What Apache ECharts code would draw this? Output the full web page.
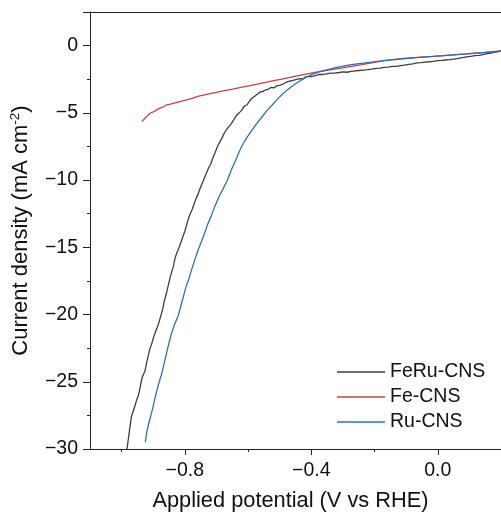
<!DOCTYPE html>
<html><head><meta charset="utf-8">
<script src="https://cdn.jsdelivr.net/npm/echarts@6/dist/echarts.min.js"></script>
<style>html,body{margin:0;padding:0;background:#fff}#c{width:501px;height:517px}</style>
</head><body><div id="c"></div>
<script>
var seriesNames = ['FeRu-CNS', 'Fe-CNS', 'Ru-CNS'];
var xMajorTicks = [-0.8, -0.4, 0.0];
var xMinorTicks = [-1.0, -0.6, -0.2];
var feruCNS = [
[-0.983,-30.0],[-0.980,-29.5],[-0.976,-28.8],[-0.972,-28.1],[-0.969,-27.6],[-0.965,-27.3],[-0.959,-26.9],[-0.953,-26.4],
[-0.948,-26.1],[-0.943,-25.6],[-0.938,-25.0],[-0.934,-24.6],[-0.930,-24.4],[-0.926,-24.2],[-0.921,-23.6],[-0.915,-23.0],
[-0.910,-22.5],[-0.905,-22.2],[-0.899,-21.7],[-0.893,-21.3],[-0.888,-21.0],[-0.882,-20.6],[-0.876,-20.1],[-0.870,-19.6],
[-0.865,-19.0],[-0.858,-18.4],[-0.852,-17.8],[-0.846,-17.2],[-0.840,-16.7],[-0.836,-16.4],[-0.831,-15.8],[-0.825,-15.4],
[-0.818,-15.0],[-0.812,-14.6],[-0.806,-14.2],[-0.800,-13.8],[-0.794,-13.3],[-0.789,-12.9],[-0.783,-12.5],[-0.777,-12.2],
[-0.771,-11.8],[-0.765,-11.4],[-0.759,-11.1],[-0.753,-10.7],[-0.746,-10.3],[-0.739,-9.9],[-0.732,-9.5],[-0.725,-9.1],
[-0.718,-8.8],[-0.712,-8.4],[-0.705,-8.0],[-0.697,-7.5],[-0.690,-7.2],[-0.683,-6.9],[-0.675,-6.5],[-0.667,-6.2],
[-0.660,-6.0],[-0.653,-5.8],[-0.645,-5.5],[-0.637,-5.2],[-0.628,-5.0],[-0.620,-4.8],[-0.612,-4.5],[-0.603,-4.4],
[-0.595,-4.1],[-0.587,-3.9],[-0.578,-3.75],[-0.570,-3.6],[-0.562,-3.45],[-0.553,-3.4],[-0.545,-3.3],[-0.536,-3.25],
[-0.527,-3.1],[-0.518,-3.15],[-0.510,-3.0],[-0.500,-2.95],[-0.493,-2.9],[-0.485,-2.8],[-0.477,-2.7],[-0.470,-2.65],
[-0.461,-2.6],[-0.452,-2.55],[-0.443,-2.5],[-0.435,-2.45],[-0.427,-2.5],[-0.420,-2.35],[-0.410,-2.3],[-0.400,-2.3],
[-0.390,-2.25],[-0.378,-2.15],[-0.365,-2.15],[-0.352,-2.1],[-0.340,-2.05],[-0.326,-2.05],[-0.312,-2.0],[-0.300,-1.95],
[-0.287,-1.98],[-0.274,-1.92],[-0.260,-1.88],[-0.248,-1.85],[-0.235,-1.82],[-0.222,-1.79],[-0.208,-1.75],[-0.195,-1.7],
[-0.182,-1.68],[-0.170,-1.62],[-0.157,-1.6],[-0.144,-1.55],[-0.131,-1.55],[-0.118,-1.49],[-0.105,-1.45],[-0.092,-1.4],
[-0.079,-1.35],[-0.066,-1.29],[-0.053,-1.27],[-0.040,-1.22],[-0.027,-1.2],[-0.014,-1.17],[0.000,-1.12],[0.013,-1.1],
[0.025,-1.07],[0.038,-1.04],[0.051,-1.0],[0.065,-0.95],[0.078,-0.9],[0.091,-0.84],[0.104,-0.8],[0.117,-0.75],
[0.130,-0.72],[0.143,-0.67],[0.156,-0.6],[0.169,-0.55],[0.182,-0.48],[0.195,-0.42],[0.205,-0.38]
];
var feCNS = [
[-0.936,-5.65],[-0.930,-5.5],[-0.924,-5.35],[-0.915,-5.15],[-0.906,-4.98],[-0.897,-4.9],[-0.889,-4.78],[-0.879,-4.65],
[-0.868,-4.55],[-0.858,-4.4],[-0.846,-4.35],[-0.836,-4.3],[-0.826,-4.23],[-0.810,-4.12],[-0.795,-4.03],[-0.775,-3.9],
[-0.753,-3.73],[-0.727,-3.6],[-0.701,-3.48],[-0.675,-3.35],[-0.649,-3.23],[-0.623,-3.1],[-0.597,-2.99],[-0.571,-2.86],
[-0.545,-2.74],[-0.519,-2.61],[-0.493,-2.49],[-0.467,-2.37],[-0.441,-2.24],[-0.409,-2.09],[-0.375,-1.93],[-0.340,-1.8],
[-0.307,-1.67],[-0.274,-1.54],[-0.240,-1.42],[-0.205,-1.27],[-0.170,-1.12],[-0.118,-0.97],[-0.066,-0.88],[-0.014,-0.8],
[0.040,-0.71],[0.091,-0.62],[0.143,-0.52],[0.195,-0.42],[0.205,-0.4]
];
var ruCNS = [
[-0.925,-29.5],[-0.920,-28.7],[-0.912,-27.9],[-0.904,-27.2],[-0.897,-26.5],[-0.889,-25.7],[-0.881,-25.0],[-0.873,-24.4],
[-0.865,-23.6],[-0.857,-22.8],[-0.850,-22.1],[-0.842,-21.4],[-0.832,-20.7],[-0.821,-20.1],[-0.813,-19.4],[-0.805,-18.7],
[-0.797,-18.0],[-0.788,-17.4],[-0.779,-16.7],[-0.768,-15.9],[-0.758,-15.2],[-0.748,-14.6],[-0.738,-14.0],[-0.728,-13.3],
[-0.717,-12.7],[-0.704,-11.9],[-0.691,-11.2],[-0.678,-10.6],[-0.665,-10.0],[-0.652,-9.2],[-0.639,-8.5],[-0.628,-7.9],
[-0.618,-7.39],[-0.603,-6.8],[-0.587,-6.27],[-0.571,-5.75],[-0.555,-5.27],[-0.539,-4.8],[-0.523,-4.4],[-0.508,-4.0],
[-0.493,-3.66],[-0.478,-3.33],[-0.462,-3.04],[-0.446,-2.78],[-0.430,-2.54],[-0.415,-2.34],[-0.399,-2.16],[-0.378,-1.97],
[-0.352,-1.8],[-0.326,-1.65],[-0.300,-1.53],[-0.274,-1.42],[-0.222,-1.26],[-0.170,-1.12],[-0.118,-1.0],[-0.066,-0.9],
[-0.014,-0.8],[0.040,-0.71],[0.091,-0.62],[0.143,-0.52],[0.195,-0.42],[0.205,-0.4]
];
var colors = ['#3d3d3d', '#c9423d', '#2c6fbd'];

var FONT = "'Liberation Sans', Arial, sans-serif";
var AX = '#222';
var XMIN = -1.1, XMAX = 0.2;
function minus(v){ return String(v).replace('-', '\u2212'); }

var chart = echarts.init(document.getElementById('c'));
chart.setOption({
  animation: false,
  grid: { left: 86, top: 12, right: 0, bottom: 68, containLabel: false },
  legend: {
    data: seriesNames, orient: 'vertical', left: 337, top: 362, padding: 0,
    icon: 'rect', itemWidth: 48, itemHeight: 1.5, itemGap: 5,
    textStyle: { fontFamily: FONT, fontSize: 19.5, color: '#111', lineHeight: 20 }
  },
  xAxis: [
    {
      type: 'value', min: XMIN, max: XMAX, position: 'bottom',
      name: 'Applied potential (V vs RHE)', nameLocation: 'middle', nameGap: 41,
      nameTextStyle: { fontFamily: FONT, fontSize: 21.8, color: '#111', padding: [0, 10, 0, 0] },
      axisLine: { show: true, onZero: false, lineStyle: { color: AX, width: 1 } },
      axisTick: { show: true, customValues: xMajorTicks, length: 6, lineStyle: { color: AX } },
      axisLabel: { customValues: xMajorTicks, margin: 12, fontFamily: FONT, fontSize: 19.5, color: '#111',
        formatter: function(v){ return minus(v.toFixed(1)); } },
      splitLine: { show: false }
    },
    {
      type: 'value', min: XMIN, max: XMAX, position: 'bottom',
      axisLine: { show: false, onZero: false },
      axisTick: { show: true, customValues: xMinorTicks, length: 3, lineStyle: { color: AX } },
      axisLabel: { show: false }, splitLine: { show: false }
    },
    {
      type: 'value', min: XMIN, max: XMAX, position: 'top',
      axisLine: { show: true, onZero: false, lineStyle: { color: AX, width: 1 } },
      axisTick: { show: false }, axisLabel: { show: false }, splitLine: { show: false }
    }
  ],
  yAxis: {
    type: 'value', min: -30, max: 2.5, interval: 5,
    name: 'Current density (mA cm{sup|-2})', nameLocation: 'middle', nameGap: 46,
    nameTextStyle: { fontFamily: FONT, fontSize: 22, color: '#111', lineHeight: 26,
      rich: { sup: { fontFamily: FONT, fontSize: 13.5, color: '#111', verticalAlign: 'top', lineHeight: 14 } } },
    axisLine: { show: true, onZero: false, lineStyle: { color: AX, width: 1 } },
    axisTick: { show: true, length: 7, lineStyle: { color: AX } },
    minorTick: { show: true, splitNumber: 2, length: 3, lineStyle: { color: AX } },
    axisLabel: { margin: 12, showMaxLabel: false, fontFamily: FONT, fontSize: 19.5, color: '#111',
      formatter: function(v){ return v > 0 ? '' : minus(v); } },
    splitLine: { show: false }, minorSplitLine: { show: false }
  },
  series: [
    { name: seriesNames[0], type: 'line', data: feruCNS, showSymbol: false, symbol: 'none',
      lineStyle: { color: colors[0], width: 1.3 }, itemStyle: { color: colors[0] } },
    { name: seriesNames[1], type: 'line', data: feCNS, showSymbol: false, symbol: 'none',
      lineStyle: { color: colors[1], width: 1.3 }, itemStyle: { color: colors[1] } },
    { name: seriesNames[2], type: 'line', data: ruCNS, showSymbol: false, symbol: 'none',
      lineStyle: { color: colors[2], width: 1.3 }, itemStyle: { color: colors[2] } }
  ]
});
</script>
</body></html>
